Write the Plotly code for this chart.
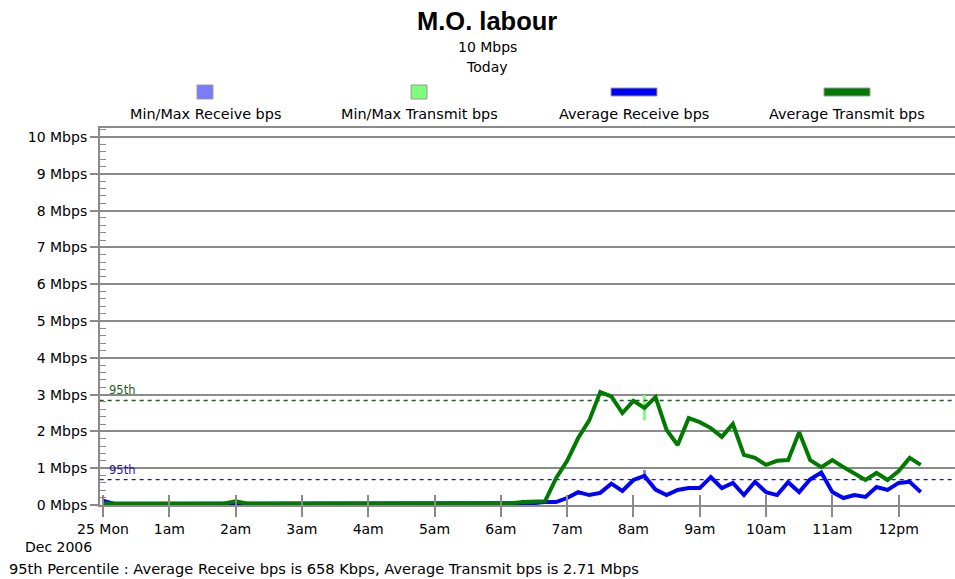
import pandas as pd
import plotly.graph_objects as go

# ---------------- data ----------------
start_time = "2006-12-25 00:00"
n_samples = 75            # 10-minute samples from 00:00 to 12:20

avg_transmit_mbps = [
    0.04, 0.04, 0.04, 0.04, 0.04, 0.04,   # 0am
    0.04, 0.04, 0.04, 0.04, 0.04, 0.04,   # 1am
    0.10, 0.04, 0.04, 0.04, 0.04, 0.04,   # 2am
    0.04, 0.04, 0.04, 0.04, 0.04, 0.04,   # 3am
    0.04, 0.04, 0.04, 0.04, 0.04, 0.04,   # 4am
    0.04, 0.04, 0.04, 0.04, 0.04, 0.04,   # 5am
    0.04, 0.05, 0.08, 0.08, 0.10, 0.73,   # 6am
    1.20, 1.82, 2.30, 3.07, 2.95, 2.50,   # 7am
    2.83, 2.64, 2.93, 2.04, 1.63, 2.36,   # 8am
    2.25, 2.09, 1.85, 2.20, 1.36, 1.28,   # 9am
    1.09, 1.20, 1.22, 1.98, 1.22, 1.03,   # 10am
    1.22, 1.03, 0.87, 0.68, 0.87, 0.68,   # 11am
    0.92, 1.28, 1.09,                     # 12pm
]

avg_receive_mbps = [
    0.12, 0.03, 0.03, 0.03, 0.03, 0.03,
    0.03, 0.03, 0.03, 0.03, 0.03, 0.03,
    0.03, 0.03, 0.03, 0.03, 0.03, 0.03,
    0.03, 0.03, 0.03, 0.03, 0.03, 0.03,
    0.03, 0.03, 0.03, 0.03, 0.03, 0.03,
    0.03, 0.03, 0.03, 0.03, 0.03, 0.03,
    0.03, 0.03, 0.04, 0.05, 0.08, 0.08,
    0.19, 0.35, 0.27, 0.33, 0.58, 0.38,
    0.68, 0.79, 0.42, 0.27, 0.41, 0.46,
    0.46, 0.76, 0.46, 0.60, 0.27, 0.63,
    0.35, 0.27, 0.62, 0.35, 0.70, 0.88,
    0.35, 0.19, 0.27, 0.22, 0.49, 0.41,
    0.60, 0.63, 0.35,
]

# visible min/max excursions
minmax_times = ["2006-12-25 08:10"]
receive_min = [0.79]
receive_max = [0.95]
transmit_min = [2.31]
transmit_max = [2.99]

p95_receive = 0.69      # axis units (658 Kbps)
p95_transmit = 2.84     # axis units (2.71 Mbps)

tick_hours = list(range(13))
tick_labels = ["25 Mon", "1am", "2am", "3am", "4am", "5am", "6am",
               "7am", "8am", "9am", "10am", "11am", "12pm"]
y_ticks = list(range(11))
y_tick_labels = [f"{v} Mbps" for v in y_ticks]

legend_names = ["Min/Max Receive bps", "Min/Max Transmit bps",
                "Average Receive bps", "Average Transmit bps"]

# ---------------- figure ----------------
times = pd.date_range(start_time, periods=n_samples, freq="10min")
tick_vals = [pd.Timestamp(start_time) + pd.Timedelta(hours=h) for h in tick_hours]

C_GRID = "#8a8a8a"
C_RX = "#0000ff"
C_TX = "#007a00"
C_RX_MM = "#7b7bff"
C_TX_MM = "#7cff7c"
FONT = "DejaVu Sans, Verdana, sans-serif"
TITLE_FONT = "Liberation Sans, Arial, sans-serif"

fig = go.Figure()

def seg(ts, lo, hi):
    xs, ys = [], []
    for t, a, b in zip(ts, lo, hi):
        xs += [t, t, None]
        ys += [a, b, None]
    return xs, ys

x_mm, y_mm = seg(minmax_times, transmit_min, transmit_max)
fig.add_trace(go.Scatter(x=x_mm, y=y_mm, mode="lines",
                         line=dict(color=C_TX_MM, width=3), showlegend=False,
                         name=legend_names[1]))
x_mm, y_mm = seg(minmax_times, receive_min, receive_max)
fig.add_trace(go.Scatter(x=x_mm, y=y_mm, mode="lines",
                         line=dict(color=C_RX_MM, width=3), showlegend=False,
                         name=legend_names[0]))

x_span = [times[0] - pd.Timedelta(minutes=3), times[0] + pd.Timedelta(hours=13)]
fig.add_trace(go.Scatter(x=x_span, y=[p95_transmit] * 2, mode="lines",
                         line=dict(color="#1a5c1a", width=1.3, dash="4px,4px"),
                         showlegend=False, hoverinfo="skip"))
fig.add_trace(go.Scatter(x=x_span, y=[p95_receive] * 2, mode="lines",
                         line=dict(color="#1a1aa0", width=1.3, dash="4px,4px"),
                         showlegend=False, hoverinfo="skip"))

fig.add_trace(go.Scatter(x=times, y=avg_receive_mbps, mode="lines",
                         line=dict(color=C_RX, width=4), showlegend=False,
                         name=legend_names[2]))
fig.add_trace(go.Scatter(x=times, y=avg_transmit_mbps, mode="lines",
                         line=dict(color=C_TX, width=4), showlegend=False,
                         name=legend_names[3]))

# helper trace so the tick-crossing overlay axis is drawn
fig.add_trace(go.Scatter(x=[times[0]], y=[None], xaxis="x2", yaxis="y",
                         showlegend=False, hoverinfo="skip"))

x_range = [pd.Timestamp("2006-12-24 23:57:18"), pd.Timestamp("2006-12-25 12:51:00")]

fig.update_layout(
    width=955, height=579,
    margin=dict(l=100, r=0, t=128, b=74),
    paper_bgcolor="white", plot_bgcolor="white",
    font=dict(family=FONT, size=14, color="black"),
    xaxis=dict(
        type="date", range=x_range,
        tickvals=tick_vals, ticktext=tick_labels,
        ticks="outside", ticklen=10, tickwidth=2, tickcolor=C_GRID,
        showgrid=False, zeroline=False,
        showline=True, linecolor=C_GRID, linewidth=2, mirror=True,
        tickfont=dict(size=14, family=FONT),
    ),
    xaxis2=dict(
        type="date", range=x_range, overlaying="x", anchor="y", side="bottom",
        tickvals=tick_vals, ticktext=[""] * len(tick_vals),
        ticks="inside", ticklen=10, tickwidth=2, tickcolor=C_GRID,
        showgrid=False, zeroline=False, showline=False, showticklabels=False,
    ),
    yaxis=dict(
        range=[0, 10.245],
        tickvals=y_ticks, ticktext=y_tick_labels,
        ticks="outside", ticklen=8, tickwidth=2, tickcolor=C_GRID,
        showgrid=True, gridcolor=C_GRID, gridwidth=2,
        zeroline=False, showline=True, linecolor=C_GRID, linewidth=2,
        tickfont=dict(size=14, family=FONT),
        minor=dict(dtick=0.2, ticks="inside", ticklen=6, tickwidth=1,
                   tickcolor=C_GRID, showgrid=False),
    ),
    hovermode=False,
)

def px_x(X):
    return (X - 100) / 855.0

def px_y(Y):
    return (505 - Y) / 377.0

anns = [
    dict(text="<b>M.O. labour</b>", x=px_x(487), y=px_y(21),
         font=dict(size=25.5, family=TITLE_FONT)),
    dict(text="10 Mbps", x=px_x(487), y=px_y(47), font=dict(size=14)),
    dict(text="Today", x=px_x(487), y=px_y(67), font=dict(size=14)),
]
legend_centers = [205, 419, 634, 847]
for cx, name in zip(legend_centers, legend_names):
    anns.append(dict(text=name, x=px_x(cx), y=px_y(114), font=dict(size=14.4)))
anns.append(dict(text="Dec 2006", x=px_x(23), y=px_y(547), xanchor="left",
                 font=dict(size=14)))
anns.append(dict(text="95th Percentile : Average Receive bps is 658 Kbps, "
                      "Average Transmit bps is 2.71 Mbps",
                 x=px_x(7), y=px_y(568), xanchor="left", font=dict(size=14.6)))
for a in anns:
    a.setdefault("xanchor", "center")
    a.update(xref="paper", yref="paper", yanchor="middle", showarrow=False)
    a["font"].setdefault("family", FONT)
    a["font"].update(color="black")

anns.append(dict(text="95th", xref="paper", yref="y", x=px_x(107), y=p95_transmit,
                 xanchor="left", yanchor="bottom", yshift=1, showarrow=False,
                 font=dict(family=FONT, size=11.5, color="#1a5c1a")))
anns.append(dict(text="95th", xref="paper", yref="y", x=px_x(107), y=p95_receive,
                 xanchor="left", yanchor="bottom", yshift=1, showarrow=False,
                 font=dict(family=FONT, size=11.5, color="#1a1aa0")))
fig.update_layout(annotations=anns)

# legend swatches
swatch_colors = [C_RX_MM, C_TX_MM, C_RX, C_TX]
shapes = []
for i, (cx, col) in enumerate(zip(legend_centers, swatch_colors)):
    if i < 2:
        x0, x1, y0, y1 = cx - 8, cx + 8, 85, 99
    else:
        x0, x1, y0, y1 = cx - 23, cx + 23, 88, 96
    shapes.append(dict(type="rect", xref="paper", yref="paper",
                       x0=px_x(x0), x1=px_x(x1), y0=px_y(y1), y1=px_y(y0),
                       fillcolor=col, line=dict(color="#9a9a9a", width=1)))
fig.update_layout(shapes=shapes)

fig.write_html("out.html",
               config={"displayModeBar": False},
               post_script="document.body.style.margin='0';"
                           "document.body.style.padding='0';")
